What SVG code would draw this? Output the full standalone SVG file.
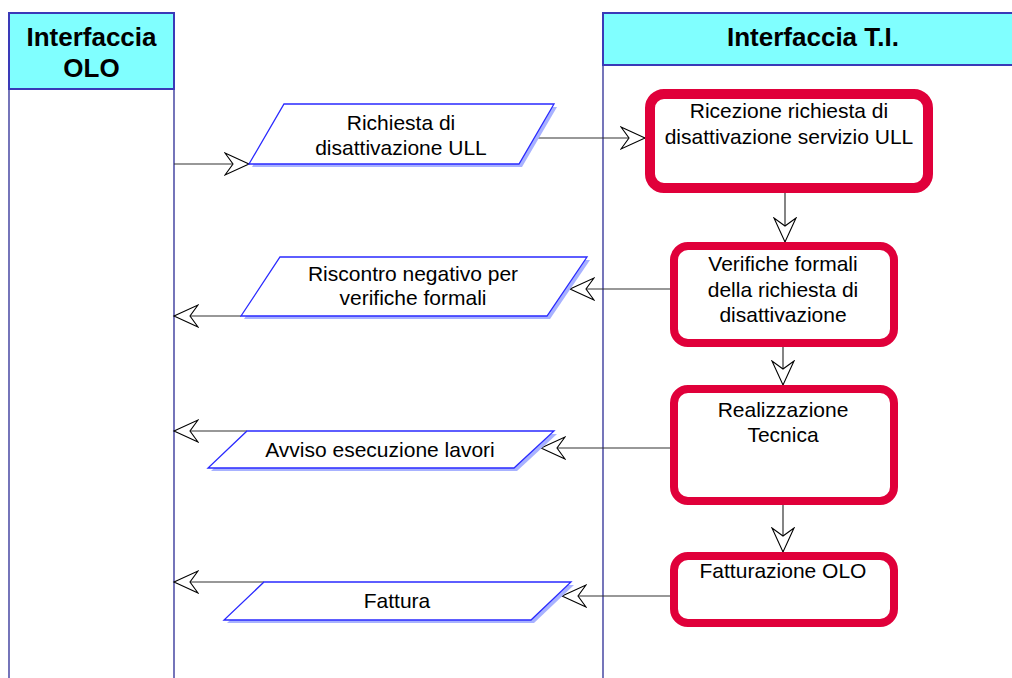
<svg xmlns="http://www.w3.org/2000/svg" width="1012" height="678" viewBox="0 0 1012 678">
<style>
  .lane{fill:none;stroke:#1a1a8c;stroke-width:1.2}
  .hdr{fill:#80ffff;stroke:#3a3ab8;stroke-width:2}
  .ht{font-family:"Liberation Sans",Arial,sans-serif;font-weight:bold;font-size:26px;fill:#000;text-anchor:middle}
  .t{font-family:"Liberation Sans",Arial,sans-serif;font-size:21px;fill:#000;text-anchor:middle}
  .proc{fill:#fff;stroke:#e0003a;stroke-width:8}
  .shadow{fill:#a8b2ff;stroke:none}
  .data{fill:#fff;stroke:#2a2aff;stroke-width:1.3}
  .conn{fill:none;stroke:#333;stroke-width:1.2}
</style>
<defs>
  <marker id="arr" markerUnits="userSpaceOnUse" markerWidth="28" markerHeight="26" refX="25" refY="12" orient="auto" viewBox="0 0 28 26">
    <path d="M1,1 L25,12 L1,23 L9,12 Z" fill="#fff" stroke="#000" stroke-width="1.1" stroke-linejoin="miter"/>
  </marker>
</defs>
<rect width="1012" height="678" fill="#fff"/>

<g id="lane-olo">
  <path class="lane" d="M9,89 V680 M174,89 V680"/>
  <rect class="hdr" x="9" y="13" width="165" height="76"/>
  <text class="ht" x="91.5" y="46">Interfaccia</text>
  <text class="ht" x="91.5" y="77">OLO</text>
</g>
<g id="lane-ti">
  <path class="lane" d="M603,65 V680"/>
  <rect class="hdr" x="603" y="13" width="420" height="52"/>
  <text class="ht" x="813" y="46">Interfaccia T.I.</text>
</g>

<g id="connectors">
  <path class="conn" d="M174,164 H249" marker-end="url(#arr)"/>
  <path class="conn" d="M537,138 H645" marker-end="url(#arr)"/>
  <path class="conn" d="M785,193 V242" marker-end="url(#arr)"/>
  <path class="conn" d="M670,289 H570" marker-end="url(#arr)"/>
  <path class="conn" d="M241,316 H174" marker-end="url(#arr)"/>
  <path class="conn" d="M783,347 V385" marker-end="url(#arr)"/>
  <path class="conn" d="M670,448 H541" marker-end="url(#arr)"/>
  <path class="conn" d="M247,431 H174" marker-end="url(#arr)"/>
  <path class="conn" d="M783,505 V552" marker-end="url(#arr)"/>
  <path class="conn" d="M670,596 H562" marker-end="url(#arr)"/>
  <path class="conn" d="M264,582 H174" marker-end="url(#arr)"/>
</g>

<g id="p1">
  <polygon class="shadow" points="287,107 557,107 522,167 252,167"/>
  <polygon class="data" points="284,104 554,104 519,164 249,164"/>
  <text class="t" x="401" y="130">Richiesta di</text>
  <text class="t" x="401" y="155">disattivazione ULL</text>
</g>
<g id="n1">
  <rect class="proc" x="650" y="94" width="278" height="94" rx="14" ry="14" style="stroke-width:10"/>
  <text class="t" x="789" y="118">Ricezione richiesta di</text>
  <text class="t" x="789" y="144">disattivazione servizio ULL</text>
</g>
<g id="n2">
  <rect class="proc" x="674" y="246" width="220" height="97" rx="14" ry="14"/>
  <text class="t" x="783" y="271">Verifiche formali</text>
  <text class="t" x="783" y="297">della richiesta di</text>
  <text class="t" x="783" y="322">disattivazione</text>
</g>
<g id="p2">
  <polygon class="shadow" points="283,260 590,260 550,319 244,319"/>
  <polygon class="data" points="280,257 587,257 547,316 241,316"/>
  <text class="t" x="413" y="281">Riscontro negativo per</text>
  <text class="t" x="413" y="305">verifiche formali</text>
</g>
<g id="n3">
  <rect class="proc" x="674" y="389" width="220" height="112" rx="14" ry="14"/>
  <text class="t" x="783" y="417">Realizzazione</text>
  <text class="t" x="783" y="442">Tecnica</text>
</g>
<g id="p3">
  <polygon class="shadow" points="250,434 557,434 517,471 211,471"/>
  <polygon class="data" points="247,431 554,431 514,468 208,468"/>
  <text class="t" x="380" y="457">Avviso esecuzione lavori</text>
</g>
<g id="n4">
  <rect class="proc" x="674" y="556" width="220" height="67" rx="14" ry="14"/>
  <text class="t" x="783" y="578">Fatturazione OLO</text>
</g>
<g id="p4">
  <polygon class="shadow" points="267,585 574,585 534,623 227,623"/>
  <polygon class="data" points="264,582 571,582 531,620 224,620"/>
  <text class="t" x="397" y="608">Fattura</text>
</g>
</svg>
